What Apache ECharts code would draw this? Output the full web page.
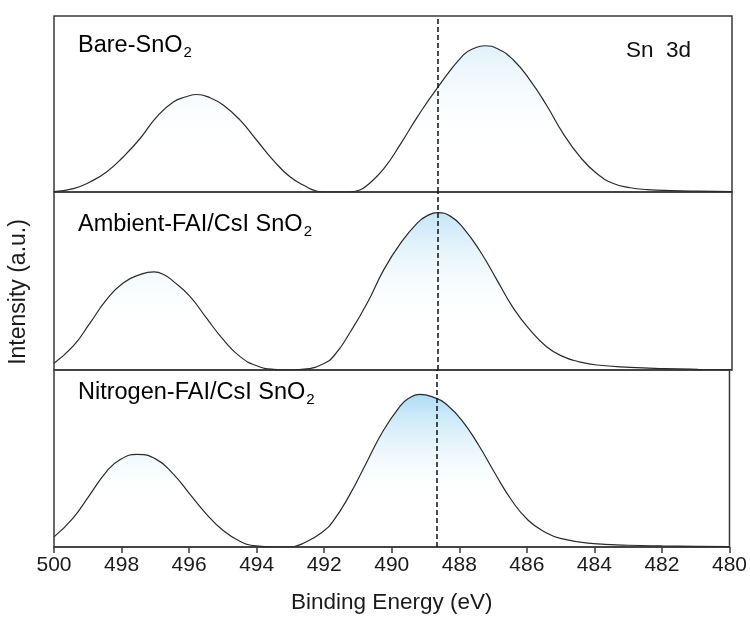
<!DOCTYPE html>
<html>
<head>
<meta charset="utf-8">
<script src="https://cdn.jsdelivr.net/npm/echarts@6/dist/echarts.min.js"></script>
<style>
html, body { margin: 0; padding: 0; background: #fff; }
#chart { width: 750px; height: 619px; }
</style>
</head>
<body>
<div id="chart"></div>
<script>
// points: binding energy (eV) and intensity (% of panel height)
const bareEnergy = [500, 499.43, 498.94, 498.45, 497.96, 497.46, 496.97, 496.48, 496.1, 495.79, 495.4, 495.0, 494.51, 494.02, 493.53, 493.03, 492.54, 492.3,
    492.05, 491.3, 491.0, 490.76, 490.27, 489.77, 489.28, 488.69, 487.93, 487.6, 487.29, 486.9, 486.45, 485.96, 485.47, 484.98, 484.48, 483.99, 483.5,
    483.0, 482.5, 481.8, 481, 480]
const bare = [0.2, 1.9, 5.7, 11.4, 19.9, 30.4, 42.7, 51.2, 54.1, 55.4, 53.6, 49.3, 40.8, 29.4, 18, 8.5, 2.8, 0.8,
    0, 0, 1.0, 3.8, 13.3, 27.5, 42.7, 59.2, 77.8, 81.7, 83.1, 81.3, 75, 63.6, 49.3, 33.2, 19.9, 10.5, 4.8,
    2.4, 1.4, 0.8, 0.45, 0.2]

const ambientEnergy = [500, 499.43, 498.94, 498.45, 497.96, 497.46, 497.05, 496.75, 496.48, 495.99, 495.5, 495.0, 494.51, 494.02, 493.53, 493.0, 492.55,
    492.05, 491.74, 491.25, 490.76, 490.27, 489.77, 489.28, 489.0, 488.68, 488.3, 487.93, 487.43, 486.94, 486.45, 485.96, 485.47, 484.98, 484.5, 483.99,
    483.0, 482.0, 481.0, 480]
const ambient = [3.8, 13.5, 26.3, 39.5, 48.9, 53.6, 55.1, 53.5, 49.8, 41.4, 29.1, 16.9, 7.5, 2.4, 0.4, 0, 0.6,
    3.5, 8.0, 21.6, 37.6, 56.4, 71.4, 82.7, 86.6, 88.4, 86.3, 79.9, 66.7, 50.8, 34.8, 22.6, 13.1, 7.5, 4.6, 2.8,
    1.5, 0.8, 0.4, 0.2]

const nitrogenEnergy = [500, 499.43, 498.94, 498.45, 498.05, 497.54, 496.97, 496.48, 495.99, 495.5, 495.0, 494.51, 494.02, 493.5, 493.03, 492.54,
    492.05, 491.74, 491.25, 490.76, 490.27, 489.77, 489.5, 489.18, 488.68, 488.42, 487.93, 487.43, 486.94, 486.45, 485.96, 485.47, 484.98, 484.02,
    483.0, 482.0, 481.0, 480]
const nitrogen = [5.7, 16.5, 29.5, 42.5, 49.3, 52.3, 49.5, 41.5, 30.2, 18.9, 9.5, 3.4, 0.6, 0, 0, 2.8,
    8.5, 14.5, 29.3, 47.2, 65.1, 79.2, 84, 86.2, 84, 81.2, 71.7, 57.6, 41.5, 26.4, 15.1, 8.5, 4.7, 1.9,
    1.0, 0.6, 0.4, 0.25]

const panelLabels = ['{t|Bare-SnO}{s|2}', '{t|Ambient-FAI/CsI SnO}{s|2}', '{t|Nitrogen-FAI/CsI SnO}{s|2}']
const dashEnergy = 488.68

const FONT = "'Liberation Sans', Arial, sans-serif"
const panels = [
    { x: bareEnergy, y: bare, top: 16, height: 176, fill: 'rgba(212,235,249,1)' },
    { x: ambientEnergy, y: ambient, top: 192, height: 178, fill: 'rgba(172,219,244,1)' },
    { x: nitrogenEnergy, y: nitrogen, top: 370, height: 177, fill: 'rgba(140,206,240,1)' },
]

const chart = echarts.init(document.getElementById('chart'))

const richText = {
    t: { fontSize: 23.5, fontFamily: FONT, color: '#111', lineHeight: 28 },
    s: { fontSize: 15, fontFamily: FONT, color: '#111', lineHeight: 15, padding: [13, 0, 0, 1] },
}

const option = {
    animation: false,
    backgroundColor: '#fff',
    grid: panels.map(p => ({
        left: 54, right: 18, top: p.top, height: p.height,
        show: true, borderColor: '#3a3a3a', borderWidth: 1.5, backgroundColor: 'transparent',
    })),
    xAxis: panels.map((p, i) => ({
        type: 'value', gridIndex: i, min: 480, max: 500, interval: 2, inverse: true,
        show: i === 2,
        axisLine: { show: true, lineStyle: { color: '#3a3a3a', width: 1.5 } },
        axisTick: { show: true, length: 6, lineStyle: { color: '#3a3a3a', width: 1.5 } },
        axisLabel: { color: '#1a1a1a', fontSize: 21, fontFamily: FONT, margin: 8 },
        splitLine: { show: false },
        name: i === 2 ? 'Binding Energy (eV)' : '',
        nameLocation: 'middle', nameGap: 44,
        nameTextStyle: { color: '#1a1a1a', fontSize: 22.5, fontFamily: FONT },
    })),
    yAxis: panels.map((p, i) => ({
        type: 'value', gridIndex: i, min: 0, max: 100, show: false,
    })),
    series: panels.map((p, i) => ({
        type: 'line', xAxisIndex: i, yAxisIndex: i,
        data: p.x.map((e, k) => [e, p.y[k]]),
        smooth: 0.5, showSymbol: false, silent: true,
        lineStyle: { color: '#2a2a2a', width: 1.2 },
        areaStyle: {
            color: new echarts.graphic.LinearGradient(0, 0, 0, 1, [
                { offset: 0, color: p.fill },
                { offset: 0.72, color: 'rgba(255,255,255,0)' },
                { offset: 1, color: 'rgba(255,255,255,0)' },
            ]),
        },
        markLine: {
            silent: true, symbol: 'none', animation: false,
            label: { show: false },
            lineStyle: { color: '#111', type: [5, 3], width: 1.5 },
            data: [{ xAxis: dashEnergy }],
        },
    })),
    graphic: [
        { type: 'text', left: 78, top: 32, style: { text: panelLabels[0], rich: richText } },
        { type: 'text', left: 78, top: 211, style: { text: panelLabels[1], rich: richText } },
        { type: 'text', left: 78, top: 379, style: { text: panelLabels[2], rich: richText } },
        { type: 'text', left: 626, top: 39, style: { text: 'Sn  3d', fontSize: 22.5, fontFamily: FONT, fill: '#111' } },
        {
            type: 'text', x: 19, y: 292, rotation: Math.PI / 2,
            style: { text: 'Intensity (a.u.)', fontSize: 23, fontFamily: FONT, fill: '#1a1a1a', align: 'center', verticalAlign: 'middle' },
        },
    ],
}

chart.setOption(option)
</script>
</body>
</html>
